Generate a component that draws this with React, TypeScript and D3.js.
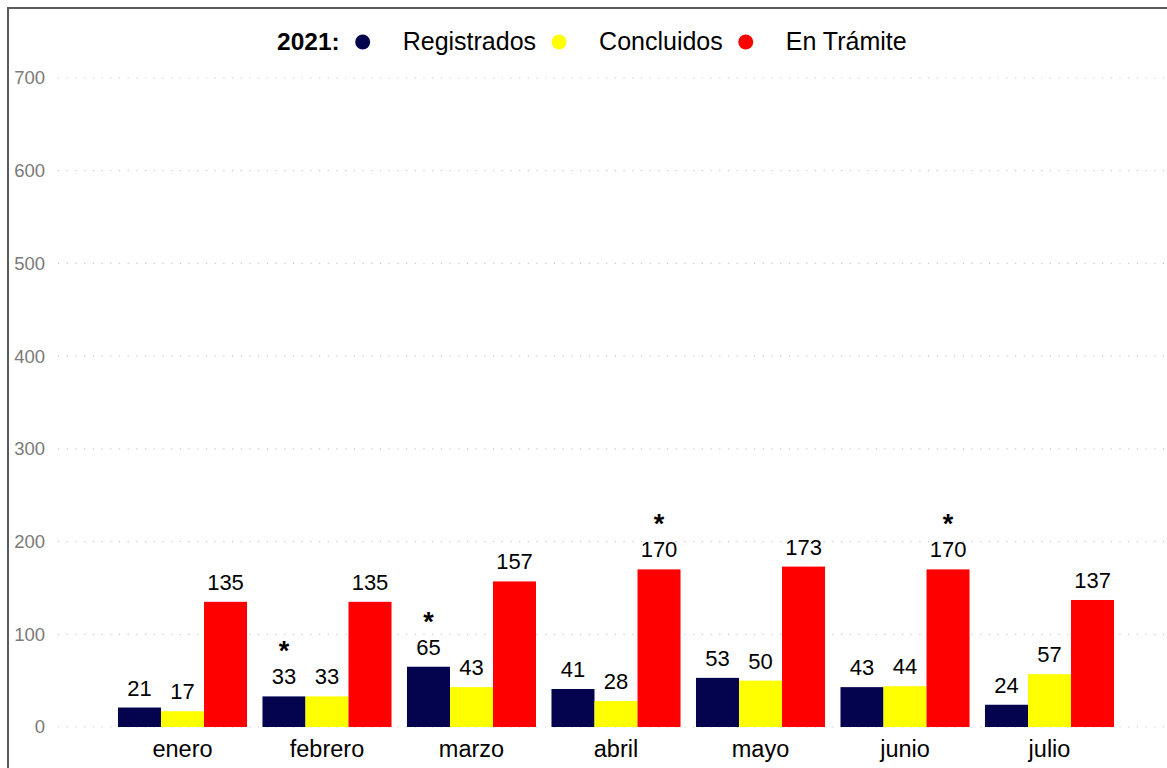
import React, { useEffect, useRef } from 'react';
import * as d3 from 'd3';

const months = ['enero', 'febrero', 'marzo', 'abril', 'mayo', 'junio', 'julio'];
const seriesNames = ['Registrados', 'Concluidos', 'En Trámite'];
const seriesColors = ['#04044e', '#ffff00', '#ff0000'];
const registrados = [21, 33, 65, 41, 53, 43, 24];
const concluidos = [17, 33, 43, 28, 50, 44, 57];
const enTramite = [135, 135, 157, 170, 173, 170, 137];
const yTicks = [0, 100, 200, 300, 400, 500, 600, 700];
// bars flagged with an asterisk: [month, series index]
const asterisks: [string, number][] = [['febrero', 0], ['marzo', 0], ['abril', 2], ['junio', 2]];
const legendTitle = '2021:';

const W = 1167;
const H = 768;
const FONT = '"Liberation Sans", Arial, sans-serif';

const App: React.FC = () => {
  const svgRef = useRef<SVGSVGElement>(null);

  useEffect(() => {
    document.body.style.margin = '0';
    if (!svgRef.current) return;
    const svg = d3.select(svgRef.current);
    svg.selectAll('*').remove();

    const values = [registrados, concluidos, enTramite];

    const x = d3.scaleBand<string>()
      .domain(months)
      .range([58, 1174])
      .paddingInner(0.107)
      .paddingOuter(0.415);

    const x1 = d3.scaleBand<number>()
      .domain([0, 1, 2])
      .range([0, x.bandwidth()])
      .padding(0);

    const y = d3.scaleLinear().domain([0, 700]).range([727, 78]);

    svg.append('rect')
      .attr('width', W).attr('height', H).attr('fill', '#fff');

    // frame (only top and left edges visible)
    svg.append('rect')
      .attr('x', 8).attr('y', 8)
      .attr('width', W + 20).attr('height', H + 20)
      .attr('fill', 'none')
      .attr('stroke', '#5a5a5a')
      .attr('stroke-width', 2);

    // gridlines
    svg.append('g')
      .selectAll('line')
      .data(yTicks)
      .join('line')
      .attr('x1', 58).attr('x2', W)
      .attr('y1', d => y(d)).attr('y2', d => y(d))
      .attr('stroke', '#c8c8c8')
      .attr('stroke-width', 1.2)
      .attr('stroke-dasharray', '1.2,7.5');

    // y tick labels
    svg.append('g')
      .selectAll('text')
      .data(yTicks)
      .join('text')
      .attr('x', 45)
      .attr('y', d => y(d))
      .attr('dy', '0.35em')
      .attr('text-anchor', 'end')
      .attr('font-family', FONT)
      .attr('font-size', 18.5)
      .attr('fill', '#7a7a7a')
      .text(d => d);

    // bars
    const groups = svg.append('g')
      .selectAll('g')
      .data(months)
      .join('g')
      .attr('transform', m => `translate(${x(m)},0)`);

    const cells = groups.selectAll('g')
      .data((m, i) => values.map((s, k) => ({ month: m, k, v: s[i] })))
      .join('g');

    cells.append('rect')
      .attr('x', d => x1(d.k)!)
      .attr('y', d => y(d.v))
      .attr('width', x1.bandwidth())
      .attr('height', d => y(0) - y(d.v))
      .attr('fill', d => seriesColors[d.k]);

    cells.append('text')
      .attr('x', d => x1(d.k)! + x1.bandwidth() / 2)
      .attr('y', d => y(d.v) - 12)
      .attr('text-anchor', 'middle')
      .attr('font-family', FONT)
      .attr('font-size', 22)
      .attr('fill', '#000')
      .text(d => d.v);

    cells.filter(d => asterisks.some(([m, k]) => m === d.month && k === d.k))
      .append('text')
      .attr('x', d => x1(d.k)! + x1.bandwidth() / 2)
      .attr('y', d => y(d.v) - 12 - 24)
      .attr('text-anchor', 'middle')
      .attr('font-family', FONT)
      .attr('font-size', 27)
      .attr('font-weight', 'bold')
      .attr('fill', '#000')
      .text('*');

    // month labels
    svg.append('g')
      .selectAll('text')
      .data(months)
      .join('text')
      .attr('x', m => x(m)! + x.bandwidth() / 2)
      .attr('y', 757)
      .attr('text-anchor', 'middle')
      .attr('font-family', FONT)
      .attr('font-size', 23.5)
      .attr('fill', '#000')
      .text(m => m);

    // legend
    const legend = svg.append('g');
    let cx = 277;
    const baseY = 50;
    const title = legend.append('text')
      .attr('x', cx).attr('y', baseY)
      .attr('font-family', FONT)
      .attr('font-size', 24.5)
      .attr('font-weight', 'bold')
      .attr('fill', '#000')
      .text(legendTitle);
    cx += (title.node() as SVGTextElement).getComputedTextLength();
    seriesNames.forEach((name, k) => {
      const circleX = cx + 23;
      legend.append('circle')
        .attr('cx', circleX).attr('cy', 42).attr('r', 7.5)
        .attr('fill', seriesColors[k]);
      const t = legend.append('text')
        .attr('x', circleX + 40).attr('y', baseY)
        .attr('font-family', FONT)
        .attr('font-size', 25)
        .attr('fill', '#000')
        .text(name);
      cx = circleX + 40 + (t.node() as SVGTextElement).getComputedTextLength();
    });
  }, []);

  return <svg ref={svgRef} width={W} height={H} style={{ display: 'block' }} />;
};

export default App;
